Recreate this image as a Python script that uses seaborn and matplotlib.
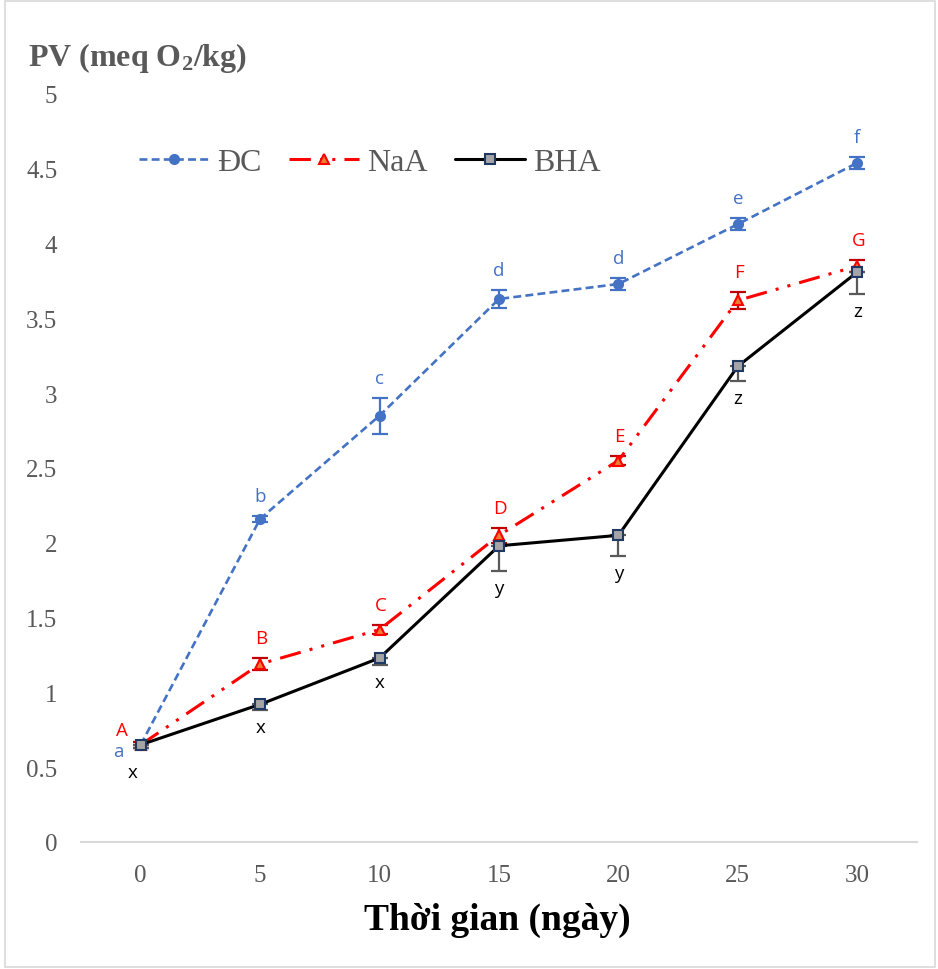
import matplotlib
matplotlib.use("Agg")
import matplotlib.pyplot as plt
import seaborn as sns
import pandas as pd
from matplotlib.patches import Rectangle
from matplotlib.lines import Line2D

# ---- data ----
days = [0, 5, 10, 15, 20, 25, 30]
dc_vals = [0.65, 2.16, 2.85, 3.63, 3.73, 4.13, 4.54]
dc_err = [0.02, 0.02, 0.12, 0.06, 0.04, 0.04, 0.04]
dc_letters = ["a", "b", "c", "d", "d", "e", "f"]
naa_vals = [0.65, 1.19, 1.42, 2.05, 2.55, 3.62, 3.85]
naa_err = [0.02, 0.04, 0.03, 0.05, 0.03, 0.055, 0.04]
naa_letters = ["A", "B", "C", "D", "E", "F", "G"]
bha_vals = [0.65, 0.92, 1.23, 1.98, 2.05, 3.18, 3.81]
bha_err = [0.02, 0.04, 0.05, 0.17, 0.14, 0.10, 0.15]
bha_letters = ["x", "x", "x", "y", "y", "z", "z"]
series_names = ["ĐC", "NaA", "BHA"]
yticks = [0, 0.5, 1, 1.5, 2, 2.5, 3, 3.5, 4, 4.5, 5]
ytick_labels = ["0", "0.5", "1", "1.5", "2", "2.5", "3", "3.5", "4", "4.5", "5"]

sns.set_theme(style="white")
plt.rcParams["font.family"] = ["Liberation Serif", "DejaVu Serif"]
plt.rcParams["mathtext.fontset"] = "custom"
plt.rcParams["mathtext.rm"] = "Liberation Serif:bold"
plt.rcParams["mathtext.it"] = "Liberation Serif:bold"
plt.rcParams["mathtext.bf"] = "Liberation Serif:bold"

fig = plt.figure(figsize=(9.38, 9.70), dpi=100)
ax = fig.add_axes([81/938, (970-843)/970, 836/938, 748/970])

styles = {
    "ĐC": dict(vals=dc_vals, err=dc_err, color="#4472C4",
               ls=(0, (3, 1.6)), lw=1.9, marker="o", ms=6.5, mfc="#4472C4", mec="#4472C4",
               ecolor="#4472C4", both=True),
    "NaA": dict(vals=naa_vals, err=naa_err, color="#FF0000",
                ls=(0, (7, 3, 1, 3, 1, 3)), lw=2.2, marker="^", ms=7, mfc="#ED7D31", mec="#FF0000",
                ecolor="#C00000", both=True),
    "BHA": dict(vals=bha_vals, err=bha_err, color="#000000",
                ls="-", lw=2.2, marker="s", ms=7.5, mfc="#A5A5A5", mec="#1F3864",
                ecolor="#595959", both=False),
}

handles = []
for name in series_names:
    s = styles[name]
    df = pd.DataFrame({"day": days, "pv": s["vals"]})
    if s["both"]:
        yerr = s["err"]
    else:
        yerr = [s["err"], [0] * len(s["err"])]
    ax.errorbar(days, s["vals"], yerr=yerr, fmt="none", ecolor=s["ecolor"],
                elinewidth=1.6, capsize=6, capthick=1.6, zorder=2)
    sns.lineplot(data=df, x="day", y="pv", ax=ax, color=s["color"], linewidth=s["lw"],
                 marker=s["marker"], markersize=s["ms"], markerfacecolor=s["mfc"],
                 markeredgecolor=s["mec"], markeredgewidth=1.5, zorder=3)
    line = ax.lines[-1]
    line.set_linestyle(s["ls"])
    handles.append(Line2D([], [], color=s["color"], linestyle=s["ls"], linewidth=s["lw"],
                          marker=s["marker"], markersize=s["ms"], markerfacecolor=s["mfc"],
                          markeredgecolor=s["mec"], markeredgewidth=1.5))

# letters
lfont = dict(family=["Open Sans", "DejaVu Sans"], fontsize=13.5)
for i, d in enumerate(days):
    if i == 0:
        ax.annotate(dc_letters[i], (d, dc_vals[i]), xytext=(-22, -6), textcoords="offset pixels",
                    ha="center", va="center", color="#4472C4", **lfont)
        ax.annotate(naa_letters[i], (d, naa_vals[i]), xytext=(-19, 15), textcoords="offset pixels",
                    ha="center", va="center", color="#FF0000", **lfont)
        ax.annotate(bha_letters[i], (d, bha_vals[i]), xytext=(-8, -27), textcoords="offset pixels",
                    ha="center", va="center", color="#000000", **lfont)
        continue
    ax.annotate(dc_letters[i], (d, dc_vals[i] + dc_err[i]), xytext=(0, 20), textcoords="offset pixels",
                ha="center", va="center", color="#4472C4", **lfont)
    ax.annotate(naa_letters[i], (d, naa_vals[i] + naa_err[i]), xytext=(1, 20), textcoords="offset pixels",
                ha="center", va="center", color="#FF0000", **lfont)
    ax.annotate(bha_letters[i], (d, bha_vals[i] - bha_err[i]), xytext=(0, -17), textcoords="offset pixels",
                ha="center", va="center", color="#000000", **lfont)

ax.set_xlim(-2.5, 32.5)
ax.set_ylim(0, 5)
ax.set_xticks(days)
ax.set_xticklabels([str(d) for d in days])
ax.set_yticks(yticks)
ax.set_yticklabels(ytick_labels)
ax.tick_params(axis="both", length=0, labelsize=18, labelcolor="#595959")
ax.tick_params(axis="y", pad=17)
ax.tick_params(axis="x", pad=16)
ax.set_xlabel("")
ax.set_ylabel("")
ax.grid(False)
for sp in ["top", "right", "left"]:
    ax.spines[sp].set_visible(False)
ax.spines["bottom"].set_color("#D9D9D9")
ax.spines["bottom"].set_linewidth(1.5)

leg = ax.legend(handles=handles, labels=series_names, ncol=3, frameon=False,
                loc="center", bbox_to_anchor=(370/938, 1-163/970), bbox_transform=fig.transFigure,
                fontsize=23, handlelength=2.2, columnspacing=0.85, handletextpad=0.25)
for t in leg.get_texts():
    t.set_color("#595959")

fig.text(28/938, 1-58/970, r"PV (meq O$_{2}$/kg)", fontsize=23, fontweight="bold",
         color="#595959", ha="left", va="center")
fig.text(497/938, 1-920/970, "Thời gian (ngày)", fontsize=27, fontweight="bold",
         color="#000000", ha="center", va="center")

fig.patches.append(Rectangle((5/938, 2/970), 930/938, 966/970, transform=fig.transFigure,
                             fill=False, edgecolor="#D9D9D9", linewidth=1.2))

fig.savefig("out.png", dpi=100)
